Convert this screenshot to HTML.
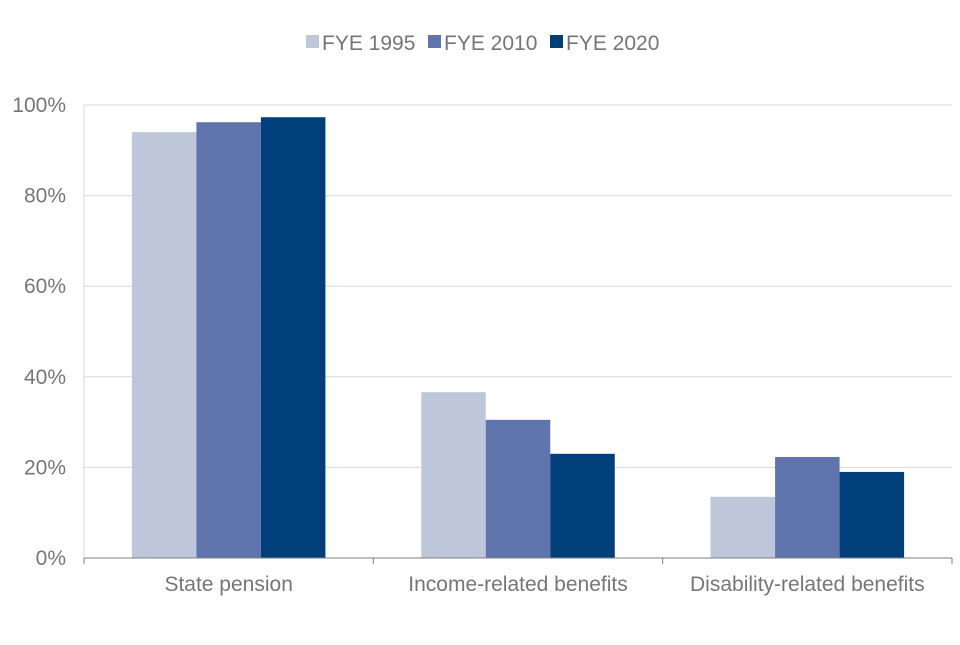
<!DOCTYPE html>
<html><head><meta charset="utf-8"><style>
body{margin:0;background:#fff;font-family:"Liberation Sans",sans-serif}
</style></head><body>
<svg width="960" height="640" id="c" font-family="Liberation Sans, sans-serif"></svg>
<script>
const categories=["State pension","Income-related benefits","Disability-related benefits"];
const seriesNames=["FYE 1995","FYE 2010","FYE 2020"];
const s1995=[94,36.6,13.5];
const s2010=[96.2,30.5,22.3];
const s2020=[97.3,23,19];
const yTicks=[0,20,40,60,80,100];
const colors=["#bec6d9","#5f74ad","#003f7a"];
const series=[s1995,s2010,s2020];
const svg=document.getElementById('c');
const NS='http://www.w3.org/2000/svg';
const x0=84,x1=952,yb=558,yt=105;
const y=v=>yb-(v/100)*(yb-yt);
const bw=(x1-x0)/categories.length;
const txt='#767676';
function el(t,a,p){const e=document.createElementNS(NS,t);for(const k in a)e.setAttribute(k,a[k]);(p||svg).appendChild(e);return e;}
yTicks.forEach(t=>{
 if(t>0){const g=el('line',{x1:x0,x2:x1,y1:y(t),y2:y(t),stroke:'#d9d9d9','stroke-width':1});
 
 }
 const l=el('text',{x:66,y:y(t)+7,'text-anchor':'end','font-size':21,fill:txt});l.textContent=t+'%';
 
 
});
const barW=64.5;
categories.forEach((c,i)=>{
 const cx=x0+bw*(i+0.5);
 series.forEach((s,j)=>{
  const bx=cx-1.5*barW+j*barW;
  const r=el('rect',{x:bx,y:y(s[i]),width:barW,height:yb-y(s[i]),fill:colors[j]});
  
  
 });
 const t=el('text',{x:cx,y:591,'text-anchor':'middle','font-size':21,fill:txt});t.textContent=c;
 
 
});
const ax=el('line',{x1:x0,x2:x1,y1:yb,y2:yb,stroke:'#7f7f7f','stroke-width':1});


const ay=el('line',{x1:x0,x2:x0,y1:yt,y2:yb,stroke:'#d9d9d9','stroke-width':1});


for(let i=0;i<=categories.length;i++){const tk=el('line',{x1:x0+bw*i,x2:x0+bw*i,y1:yb,y2:yb+6,stroke:'#7f7f7f'});
 
 }
const lx=[306,428,550];
seriesNames.forEach((n,j)=>{
 const g=el('g',{});
 
 
 el('rect',{x:lx[j],y:35,width:13,height:13,fill:colors[j]},g);
 const t=el('text',{x:lx[j]+16,y:50,'font-size':21,fill:txt},g);t.textContent=n;
});
</script>
</body></html>
